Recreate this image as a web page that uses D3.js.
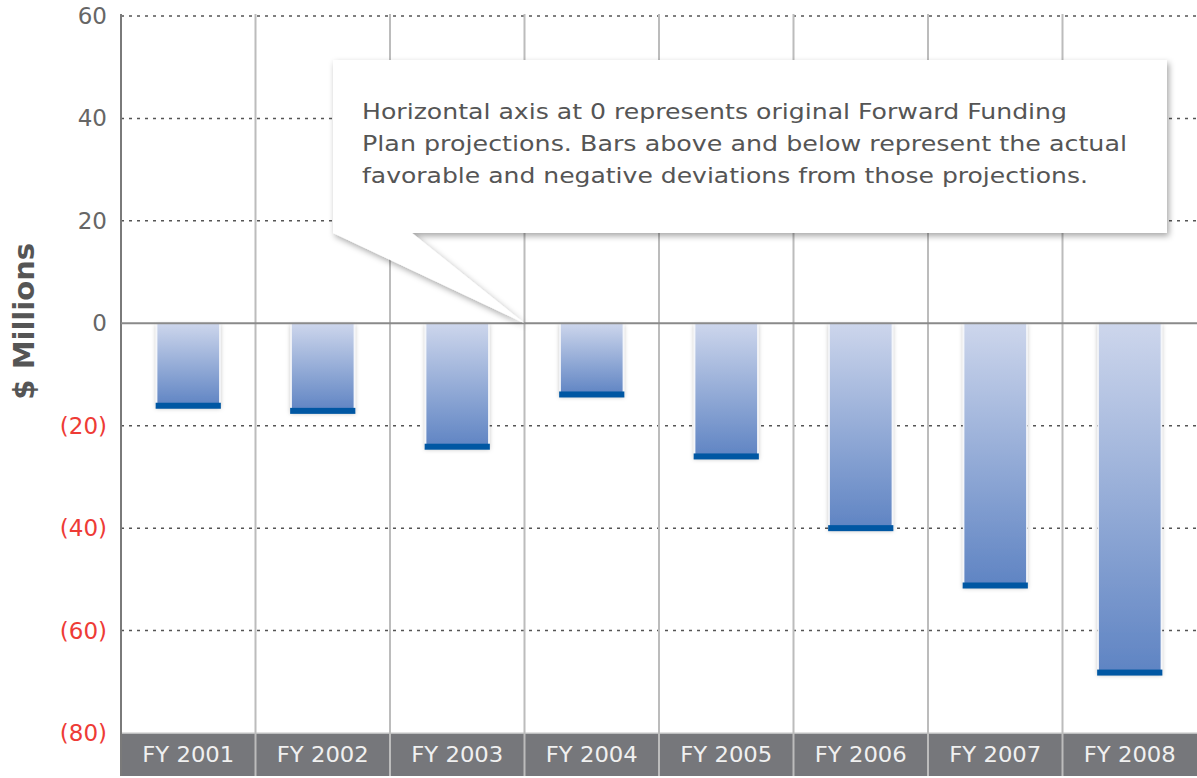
<!DOCTYPE html>
<html>
<head>
<meta charset="utf-8">
<script src="https://cdn.jsdelivr.net/npm/d3@7"></script>
<style>
  body { margin: 0; background: #fff; }
  svg { display: block; font-family: "DejaVu Sans", sans-serif; }
</style>
</head>
<body>
<svg id="chart" width="1197" height="778"></svg>
<script>
// chart data
var years = ["FY 2001", "FY 2002", "FY 2003", "FY 2004", "FY 2005", "FY 2006", "FY 2007", "FY 2008"];
var deviations = [-16.1, -17.1, -24.1, -13.9, -26.0, -40.0, -51.2, -68.2];
var yTicks = [60, 40, 20, 0, -20, -40, -60, -80];
var noteLines = [
  "Horizontal axis at 0 represents original Forward Funding",
  "Plan projections. Bars above and below represent the actual",
  "favorable and negative deviations from those projections."
];

var svg = d3.select("#chart");
var left = 121, right = 1197, bottom = 776;

var x = d3.scaleBand().domain(years).range([left, right]).padding(0);
var xBar = d3.scaleBand().domain(years).range([left, right])
  .paddingInner(0.53).paddingOuter(0.265);
var y = d3.scaleLinear().domain([-80, 60]).range([733, 16]);

var defs = svg.append("defs");
var grad = defs.append("linearGradient")
  .attr("id", "barGrad").attr("x1", 0).attr("y1", 0).attr("x2", 0).attr("y2", 1);
grad.append("stop").attr("offset", "0%").attr("stop-color", "#cdd6ec");
grad.append("stop").attr("offset", "100%").attr("stop-color", "#5f84c3");

var shadow = defs.append("filter").attr("id", "shadow")
  .attr("x", "-10%").attr("y", "-10%").attr("width", "130%").attr("height", "130%");
shadow.append("feDropShadow").attr("dx", 2).attr("dy", 3)
  .attr("stdDeviation", 3).attr("flood-color", "#000").attr("flood-opacity", 0.35);

var barShadow = defs.append("filter").attr("id", "barShadow")
  .attr("x", "-20%").attr("y", "-10%").attr("width", "140%").attr("height", "130%");
barShadow.append("feDropShadow").attr("dx", 0).attr("dy", 2)
  .attr("stdDeviation", 2).attr("flood-color", "#000").attr("flood-opacity", 0.25);

// dotted gridlines (the -80 line is hidden under the category band)
svg.append("g").selectAll("line").data(yTicks.filter(function(d) { return d !== 0 && d !== -80; }))
  .enter().append("line")
  .attr("x1", left).attr("x2", right)
  .attr("y1", function(d) { return y(d); }).attr("y2", function(d) { return y(d); })
  .attr("stroke", "#555").attr("stroke-width", 1.5)
  .attr("stroke-dasharray", "3,5");

// category band at the bottom
svg.append("rect")
  .attr("x", left).attr("y", y(-80))
  .attr("width", right - left).attr("height", bottom - y(-80))
  .attr("fill", "#76777b");
svg.append("line")
  .attr("x1", left).attr("x2", right).attr("y1", y(-80)).attr("y2", y(-80))
  .attr("stroke", "#d6d6d6").attr("stroke-width", 1.5);

// column separators
svg.append("g").selectAll("line").data(years.slice(1))
  .enter().append("line")
  .attr("x1", function(d) { return x(d); }).attr("x2", function(d) { return x(d); })
  .attr("y1", y(60) - 2).attr("y2", bottom)
  .attr("stroke", "#bcbcbc").attr("stroke-width", 2);

// left axis line
svg.append("line")
  .attr("x1", left).attr("x2", left).attr("y1", y(60) - 2).attr("y2", bottom)
  .attr("stroke", "#7a7a7a").attr("stroke-width", 2);

// bars
var bars = svg.append("g");
bars.selectAll("rect.bar").data(deviations)
  .enter().append("rect")
  .attr("class", "bar")
  .attr("x", function(d, i) { return xBar(years[i]); })
  .attr("y", y(0))
  .attr("width", xBar.bandwidth())
  .attr("height", function(d) { return y(d) - y(0); })
  .attr("fill", "url(#barGrad)")
  .attr("stroke", "#f4f6fa").attr("stroke-width", 1.5)
  .attr("filter", "url(#barShadow)");
bars.selectAll("rect.cap").data(deviations)
  .enter().append("rect")
  .attr("class", "cap")
  .attr("x", function(d, i) { return xBar(years[i]) - 1; })
  .attr("y", function(d) { return y(d) - 3; })
  .attr("width", xBar.bandwidth() + 2)
  .attr("height", 6)
  .attr("fill", "#0057a3");

// zero line
svg.append("line")
  .attr("x1", left).attr("x2", right).attr("y1", y(0)).attr("y2", y(0))
  .attr("stroke", "#8a8a8a").attr("stroke-width", 2);

// y tick labels
svg.append("g").selectAll("text").data(yTicks)
  .enter().append("text")
  .attr("x", 107).attr("y", function(d) { return y(d) + 8; })
  .attr("text-anchor", "end")
  .attr("font-size", 23)
  .attr("fill", function(d) { return d < 0 ? "#ee3b36" : "#666"; })
  .text(function(d) { return d < 0 ? "(" + (-d) + ")" : d; });

// y title
svg.append("text")
  .attr("transform", "translate(34," + (y(0) - 2) + ") rotate(-90)")
  .attr("text-anchor", "middle")
  .attr("font-size", 29).attr("font-weight", "bold")
  .attr("fill", "#555")
  .text("$ Millions");

// category labels
svg.append("g").selectAll("text").data(years)
  .enter().append("text")
  .attr("x", function(d) { return x(d) + x.bandwidth() / 2; })
  .attr("y", 762)
  .attr("text-anchor", "middle")
  .attr("font-size", 21)
  .attr("fill", "#f0f0f0")
  .attr("textLength", 92)
  .attr("lengthAdjust", "spacingAndGlyphs")
  .text(function(d) { return d; });

// callout
var bx0 = 333, bx1 = 1167, by0 = 60, by1 = 233;
var tip = [x("FY 2004"), y(0)];
var callout = "M" + bx0 + "," + by0 + "L" + bx1 + "," + by0 + "L" + bx1 + "," + by1 +
  "L412," + by1 + "L" + tip[0] + "," + tip[1] + "L" + bx0 + "," + by1 + "Z";
svg.append("path")
  .attr("d", callout)
  .attr("fill", "#fff")
  .attr("filter", "url(#shadow)");

var lineW = [705, 765, 726];
svg.append("g").selectAll("text").data(noteLines)
  .enter().append("text")
  .attr("x", 362)
  .attr("y", function(d, i) { return 119 + i * 32; })
  .attr("font-size", 22)
  .attr("fill", "#555")
  .attr("textLength", function(d, i) { return lineW[i]; })
  .attr("lengthAdjust", "spacingAndGlyphs")
  .text(function(d) { return d; });
</script>
</body>
</html>
